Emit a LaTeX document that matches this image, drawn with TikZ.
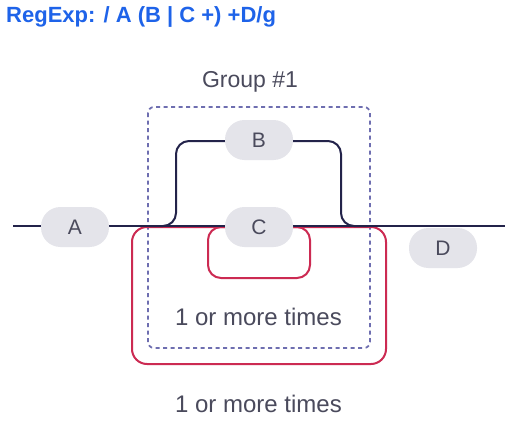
\documentclass[tikz,border=0pt]{standalone}
\usepackage{fontspec}
\setmainfont{Liberation Sans}
\definecolor{navy}{HTML}{23234A}
\definecolor{crim}{HTML}{CC2A52}
\definecolor{dashc}{HTML}{6E6EB0}
\definecolor{pillc}{HTML}{E4E4EA}
\definecolor{txtc}{HTML}{4A4A5C}
\definecolor{titlec}{HTML}{1E63E9}
\begin{document}
\begin{tikzpicture}[x=1pt,y=-1pt,
  pill/.style={rectangle,rounded corners=19.5pt,fill=pillc,minimum width=68pt,minimum height=40pt,inner sep=0pt,text=txtc,font=\fontsize{21}{21}\selectfont},
  mainline/.style={draw=navy,line width=2pt},
  loopline/.style={draw=crim,line width=2pt},
  groupbox/.style={draw=dashc,line width=1.7pt,dash pattern=on 4pt off 3.5pt,rounded corners=6pt},
  lbl/.style={text=txtc,font=\fontsize{24}{24}\selectfont,anchor=base,inner sep=0pt}]
\useasboundingbox[fill=white] (0,0) rectangle (520,447);
% title
\node[anchor=base west,inner sep=0pt,text=titlec,font=\fontsize{22}{22}\selectfont\bfseries] (title) at (6,23) {RegExp: / A (B | C +) +D/g};
% group box
\draw[groupbox] (148,107) rectangle (370,348);
% red loops
\draw[loopline,rounded corners=15pt] (132,227) rectangle (386,364);
\draw[loopline,rounded corners=13pt] (208,227) rectangle (310,278);
% main line
\coordinate (s) at (13,226);
\coordinate (e) at (505,226);
\draw[mainline] (s) -- (e);
% pills
\node[pill] (A) at (75,227) {A};
\node[pill] (B) at (259,140) {B};
\node[pill] (C) at (259,227) {C};
\node[pill] (D) at (443,248) {D};
% B branch
\coordinate (bl) at (150,226);
\coordinate (br) at (368,226);
\draw[mainline,rounded corners=13pt] (bl) -- (176,226) -- (176,141) -- (B.west |- 0,141);
\draw[mainline,rounded corners=13pt] (B.east |- 0,141) -- (341,141) -- (341,226) -- (br);
% labels
\node[lbl,font=\fontsize{23}{23}\selectfont] (g1) at (250,87) {Group \#1};
\node[lbl] (t1) at (258.5,325) {1 or more times};
\node[lbl] (t2) at (258.5,412) {1 or more times};
\end{tikzpicture}
\end{document}
